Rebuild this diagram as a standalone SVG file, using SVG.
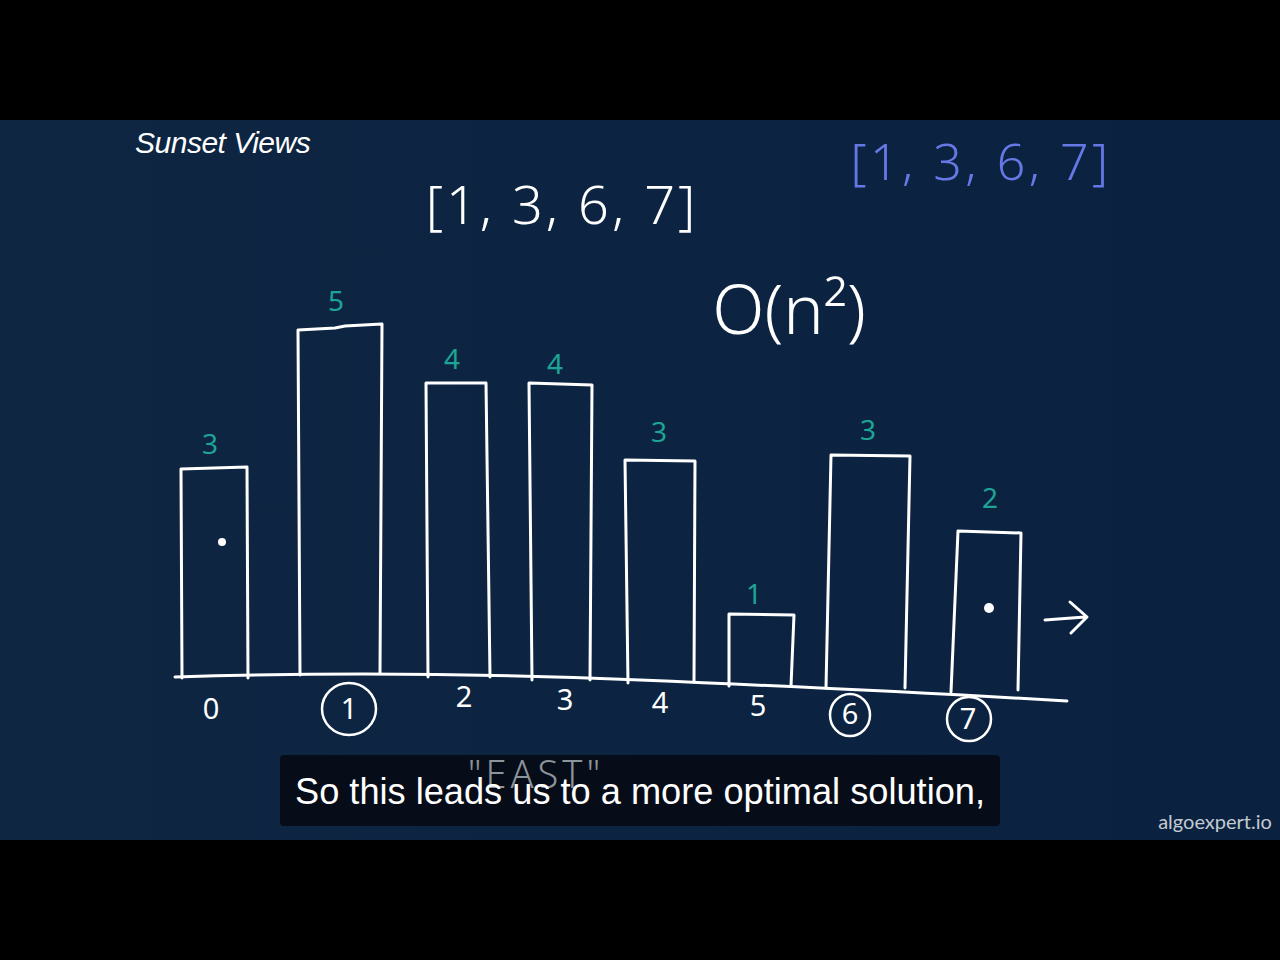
<svg xmlns="http://www.w3.org/2000/svg" width="1280" height="960" viewBox="0 0 1280 960">
  <defs>
    <linearGradient id="bg" x1="0" y1="0" x2="1" y2="0">
      <stop offset="0" stop-color="#0e2642"/>
      <stop offset="1" stop-color="#0a2240"/>
    </linearGradient>
    <style>
      .bar{fill:none;stroke:#ffffff;stroke-width:3;stroke-linejoin:round;stroke-linecap:round}
      .hand{font-family:"Noto Sans","DejaVu Sans",sans-serif;fill:#ffffff}
      .val{font-family:"Noto Sans","DejaVu Sans",sans-serif;fill:#1ea496;font-size:28px;text-anchor:middle}
      .idx{font-family:"Noto Sans","DejaVu Sans",sans-serif;fill:#ffffff;font-size:29px;text-anchor:middle}
      .ring{fill:none;stroke:#ffffff;stroke-width:2.5}
    </style>
  </defs>
  <rect x="0" y="0" width="1280" height="960" fill="#000000"/>
  <rect x="0" y="120" width="1280" height="720" fill="url(#bg)"/>

  <g id="title">
    <text x="135" y="153" font-family="Liberation Sans, Arial, sans-serif" font-style="italic" font-size="30" fill="#ffffff" letter-spacing="-0.5">Sunset Views</text>
  </g>

  <g id="result-white">
    <text x="562" y="224" class="hand" font-size="54" text-anchor="middle" font-weight="300" letter-spacing="3">[1, 3, 6, 7]</text>
  </g>
  <g id="result-blue">
    <text x="981" y="180" font-family="Noto Sans, DejaVu Sans, sans-serif" font-size="50" fill="#6677e6" text-anchor="middle" font-weight="300" letter-spacing="3.5">[1, 3, 6, 7]</text>
  </g>
  <g id="complexity">
    <text x="789" y="334" class="hand" font-size="68" text-anchor="middle" font-weight="300">O(n²)</text>
  </g>

  <g id="bars">
    <path class="bar" d="M182 678 L181 469 L247 467 L248 678"/>
    <path class="bar" d="M300 675 L298 330 L335 328 L345 326 L382 324 L380 673"/>
    <path class="bar" d="M428 677 L426 383 L486 383 L490 677"/>
    <path class="bar" d="M532 680 L529 383 L592 385 L590 680"/>
    <path class="bar" d="M628 683 L625 460 L695 461 L694 682"/>
    <path class="bar" d="M729 686 L729 614 L794 615 L791 686"/>
    <path class="bar" d="M826 688 L831 455 L910 456 L905 688"/>
    <path class="bar" d="M951 692 L958 531 L1021 533 L1018 690"/>
    <path class="bar" d="M175 677 Q400 670 640 680 T1067 701"/>
  </g>

  <g id="values">
    <text class="val" x="210" y="454">3</text>
    <text class="val" x="336" y="311">5</text>
    <text class="val" x="452" y="369">4</text>
    <text class="val" x="555" y="374">4</text>
    <text class="val" x="659" y="442">3</text>
    <text class="val" x="754" y="604">1</text>
    <text class="val" x="868" y="440">3</text>
    <text class="val" x="990" y="508">2</text>
  </g>

  <g id="dots">
    <circle cx="222" cy="542" r="4" fill="#ffffff"/>
    <circle cx="989" cy="608" r="5" fill="#ffffff"/>
  </g>

  <g id="arrow">
    <path class="bar" d="M1045 620 L1085 617 M1070 602 L1087 617 L1071 633"/>
  </g>

  <g id="indices">
    <text class="idx" x="211" y="719">0</text>
    <text class="idx" x="349" y="719">1</text>
    <ellipse class="ring" cx="349" cy="709" rx="27" ry="26"/>
    <text class="idx" x="464" y="707">2</text>
    <text class="idx" x="565" y="710">3</text>
    <text class="idx" x="660" y="713">4</text>
    <text class="idx" x="758" y="716">5</text>
    <text class="idx" x="850" y="724">6</text>
    <ellipse class="ring" cx="850" cy="715" rx="20" ry="21"/>
    <text class="idx" x="968" y="729">7</text>
    <ellipse class="ring" cx="969" cy="719" rx="22" ry="22"/>
  </g>

  <g id="subtitle">
    <rect x="280" y="755" width="720" height="71" rx="4" fill="#050b14" fill-opacity="0.9"/>
    <text x="536" y="788" font-family="Noto Sans, DejaVu Sans, sans-serif" font-size="38" fill="#8c949c" text-anchor="middle" font-weight="300" letter-spacing="4">"EAST"</text>
    <text x="640" y="804" font-family="Liberation Sans, Arial, sans-serif" font-size="36" fill="#ffffff" text-anchor="middle" textLength="690" lengthAdjust="spacingAndGlyphs">So this leads us to a more optimal solution,</text>
  </g>

  <g id="watermark">
    <text x="1215" y="829" font-family="Lato, Open Sans, sans-serif" font-size="20" fill="#c3cad2" text-anchor="middle">algoexpert.io</text>
  </g>
</svg>
